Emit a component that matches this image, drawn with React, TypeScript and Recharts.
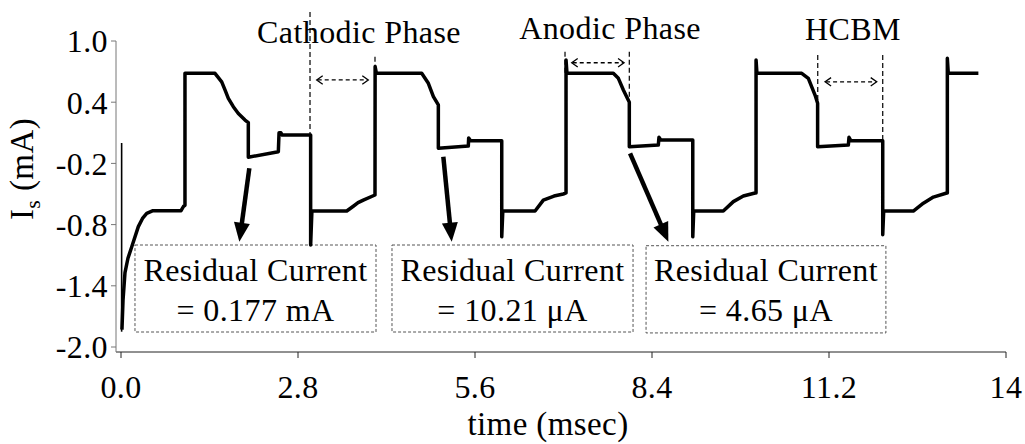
import React from "react";
import {
  LineChart,
  Line,
  XAxis,
  YAxis,
  ReferenceLine,
  ReferenceDot,
  ReferenceArea,
} from "recharts";

const FONT = "'Liberation Serif', 'Times New Roman', serif";

// stimulation current trace (ms, mA)
const time = [
  0.015, 0.032, 0.063, 0.11, 0.169, 0.274, 0.34, 0.407, 0.506, 0.95, 0.99, 1.012,
  1.012, 1.487, 1.593, 1.645, 1.698, 1.777, 1.856, 1.962, 2.014, 2.014, 2.489, 2.5, 2.53, 2.55, 3.0, 3.0,
  3.02, 3.571, 3.675, 3.75, 3.833, 4.018, 4.02, 4.04, 4.757, 4.862, 4.942, 5.02, 5.02, 5.494, 5.5, 5.53, 6.023, 6.023,
  6.04, 6.55, 6.681, 6.85, 6.997, 7.04, 7.04, 7.055, 7.788, 7.868, 7.947, 8.026, 8.041, 8.041, 8.5, 8.51, 8.54, 9.045, 9.045,
  9.06, 9.528, 9.687, 9.845, 10.03, 10.046, 10.046, 10.06, 10.769, 10.873, 10.979, 11.02, 11.02, 11.506, 11.516, 11.545, 12.05, 12.05,
  12.065, 12.534, 12.693, 12.851, 13.063, 13.072, 13.072, 13.087, 13.563,
];
const current = [
  -1.83, -1.54, -1.27, -1.13, -1.02, -0.82, -0.74, -0.69, -0.664, -0.664, -0.62, -0.61,
  0.683, 0.683, 0.6, 0.52, 0.438, 0.356, 0.29, 0.225, 0.2, -0.14, -0.085, 0.1, 0.1, 0.078, 0.078, -1.0,
  -0.667, -0.667, -0.62, -0.585, -0.56, -0.51, 0.75, 0.683, 0.683, 0.585, 0.454, 0.373, -0.052, -0.03, 0.05, 0.023, 0.023, -0.92,
  -0.667, -0.667, -0.56, -0.52, -0.5, -0.49, 0.814, 0.683, 0.683, 0.634, 0.52, 0.42, 0.4, -0.036, -0.02, 0.056, 0.03, 0.03, -0.92,
  -0.667, -0.667, -0.575, -0.52, -0.49, -0.49, 0.814, 0.683, 0.683, 0.634, 0.47, 0.39, -0.036, -0.02, 0.056, 0.023, 0.023, -0.9,
  -0.667, -0.667, -0.59, -0.53, -0.49, -0.49, 0.83, 0.683, 0.683,
];

// thin switching spike at t = 0
const spikeTime = [0.01, 0.01];
const spikeCurrent = [0.0, -1.85];

const xTicks = [0, 2.8, 5.6, 8.4, 11.2, 14];
const xTickLabels = ["0.0", "2.8", "5.6", "8.4", "11.2", "14"];
const yTicks = [1.0, 0.4, -0.2, -0.8, -1.4, -2.0];
const yTickLabels = ["1.0", "0.4", "-0.2", "-0.8", "-1.4", "-2.0"];

// phase annotations: name, label anchor [t, I], marker lines [t, top, bottom], span arrow [t1, t2, I]
const phaseNames = ["Cathodic Phase", "Anodic Phase", "HCBM"];
const phaseNameAt = [
  [3.765, 0.98],
  [7.736, 1.02],
  [11.58, 1.01],
];
const phaseMarkers = [
  [2.99, 1.284, 0.078],
  [4.018, 0.846, 0.683],
  [7.024, 0.895, 0.683],
  [8.041, 0.895, 0.42],
  [11.022, 0.863, 0.42],
  [12.05, 0.863, 0.03],
];
const phaseSpans = [
  [3.096, 3.912, 0.618],
  [7.13, 7.958, 0.787],
  [11.138, 11.955, 0.6],
];

// residual current call-outs
const residualValues = ["= 0.177 mA", "= 10.21 \u03bcA", "= 4.65 \u03bcA"];
const residualBoxes = [
  [0.221, 4.034, -1.0, -1.853],
  [4.287, 8.1, -1.0, -1.853],
  [8.306, 12.1, -1.007, -1.862],
];
const residualArrows = [
  [2.03, -0.248, 1.872, -0.968],
  [5.099, -0.134, 5.232, -0.968],
  [8.053, -0.101, 8.659, -0.968],
];

const trace = time.map((t, k) => ({ t, i: current[k] }));
const spike = spikeTime.map((t, k) => ({ t, i: spikeCurrent[k] }));

const textStyle = { fontFamily: FONT, fontSize: 32, fill: "#000", letterSpacing: 0.4 };

function SpanArrow({ x1, y1, x2, y2 }: any) {
  const h = 6;
  return (
    <g stroke="#000" strokeWidth={1.3} fill="none">
      <line x1={x1 + 1} y1={y1} x2={x2 - 1} y2={y2} strokeDasharray="4 3" />
      <polyline points={`${x1 + h},${y1 - h * 0.7} ${x1},${y1} ${x1 + h},${y1 + h * 0.7}`} />
      <polyline points={`${x2 - h},${y2 - h * 0.7} ${x2},${y2} ${x2 - h},${y2 + h * 0.7}`} />
    </g>
  );
}

function BoldArrow({ x1, y1, x2, y2 }: any) {
  const dx = x2 - x1;
  const dy = y2 - y1;
  const len = Math.hypot(dx, dy);
  const ux = dx / len;
  const uy = dy / len;
  const head = 19;
  const half = 8;
  const bx = x2 - ux * head;
  const by = y2 - uy * head;
  return (
    <g>
      <line x1={x1} y1={y1} x2={bx + ux * 2} y2={by + uy * 2} stroke="#000" strokeWidth={4.5} />
      <polygon
        points={`${x2},${y2} ${bx - uy * half},${by + ux * half} ${bx + uy * half},${by - ux * half}`}
        fill="#000"
      />
    </g>
  );
}

function ResidualBox({ x, y, width, height, value }: any) {
  const cx = x + width / 2;
  const cy = y + height / 2;
  return (
    <g>
      <rect x={x} y={y} width={width} height={height} fill="none" stroke="#555" strokeWidth={1} strokeDasharray="3 2" />
      <text x={cx} y={cy - 8} textAnchor="middle" style={textStyle}>
        Residual Current
      </text>
      <text x={cx} y={cy + 32} textAnchor="middle" style={textStyle}>
        {value}
      </text>
    </g>
  );
}

function YTitle({ viewBox }: any) {
  const x = viewBox.x + 33;
  const y = viewBox.y + 128;
  return (
    <text x={x} y={y} transform={`rotate(-90, ${x}, ${y})`} textAnchor="middle" style={{ ...textStyle, fontSize: 33 }}>
      I
      <tspan dy={7} fontSize={22}>
        s
      </tspan>
      <tspan dy={-7}> (mA)</tspan>
    </text>
  );
}

function XTitle({ viewBox }: any) {
  const x = viewBox.x + viewBox.width / 2 - 13;
  const y = viewBox.y + 83;
  return (
    <text x={x} y={y} textAnchor="middle" style={{ ...textStyle, fontSize: 33 }}>
      time (msec)
    </text>
  );
}

export default function App() {
  return (
    <div style={{ position: "absolute", left: 0, top: 0, background: "#fff" }}>
      <LineChart width={1025} height={444} margin={{ top: 41, right: 19, bottom: 0, left: 0 }}>
        <XAxis
          type="number"
          dataKey="t"
          domain={[0, 14]}
          ticks={xTicks}
          interval={0}
          padding={{ left: 5, right: 0 }}
          height={92}
          tickSize={6}
          tickMargin={17}
          stroke="#222"
          tick={{ ...textStyle }}
          tickFormatter={(v: number) => xTickLabels[xTicks.indexOf(v)]}
          label={<XTitle />}
        />
        <YAxis
          type="number"
          domain={[-2, 1]}
          ticks={yTicks}
          interval={0}
          padding={{ top: 0, bottom: 5 }}
          width={116}
          tickSize={5}
          tickMargin={3}
          stroke="#777"
          tick={{ ...textStyle }}
          tickFormatter={(v: number) => yTickLabels[yTicks.indexOf(v)]}
          label={<YTitle />}
        />
        {residualBoxes.map(([x1, x2, y1, y2], k) => (
          <ReferenceArea
            key={`box${k}`}
            x1={x1}
            x2={x2}
            y1={y1}
            y2={y2}
            ifOverflow="visible"
            shape={(p: any) => <ResidualBox {...p} value={residualValues[k]} />}
          />
        ))}
        <Line
          data={spike}
          dataKey="i"
          stroke="#000"
          strokeWidth={1.6}
          dot={false}
          isAnimationActive={false}
        />
        <Line
          data={trace}
          dataKey="i"
          type="linear"
          stroke="#000"
          strokeWidth={3.5}
          strokeLinejoin="round"
          dot={false}
          isAnimationActive={false}
        />
        {phaseMarkers.map(([t, top, bottom], k) => (
          <ReferenceLine
            key={`pm${k}`}
            segment={[
              { x: t, y: top },
              { x: t, y: bottom },
            ]}
            ifOverflow="visible"
            stroke="#000"
            strokeWidth={1.2}
            strokeDasharray="5 3"
          />
        ))}
        {phaseSpans.map(([t1, t2, v], k) => (
          <ReferenceLine
            key={`ps${k}`}
            segment={[
              { x: t1, y: v },
              { x: t2, y: v },
            ]}
            ifOverflow="visible"
            shape={(p: any) => <SpanArrow {...p} />}
          />
        ))}
        {residualArrows.map(([t1, v1, t2, v2], k) => (
          <ReferenceLine
            key={`ra${k}`}
            segment={[
              { x: t1, y: v1 },
              { x: t2, y: v2 },
            ]}
            ifOverflow="visible"
            shape={(p: any) => <BoldArrow {...p} />}
          />
        ))}
        {phaseNames.map((name, k) => (
          <ReferenceDot
            key={`pn${k}`}
            x={phaseNameAt[k][0]}
            y={phaseNameAt[k][1]}
            r={0}
            ifOverflow="visible"
            shape={(p: any) => (
              <text x={p.cx} y={p.cy} textAnchor="middle" style={textStyle}>
                {name}
              </text>
            )}
          />
        ))}
      </LineChart>
    </div>
  );
}
